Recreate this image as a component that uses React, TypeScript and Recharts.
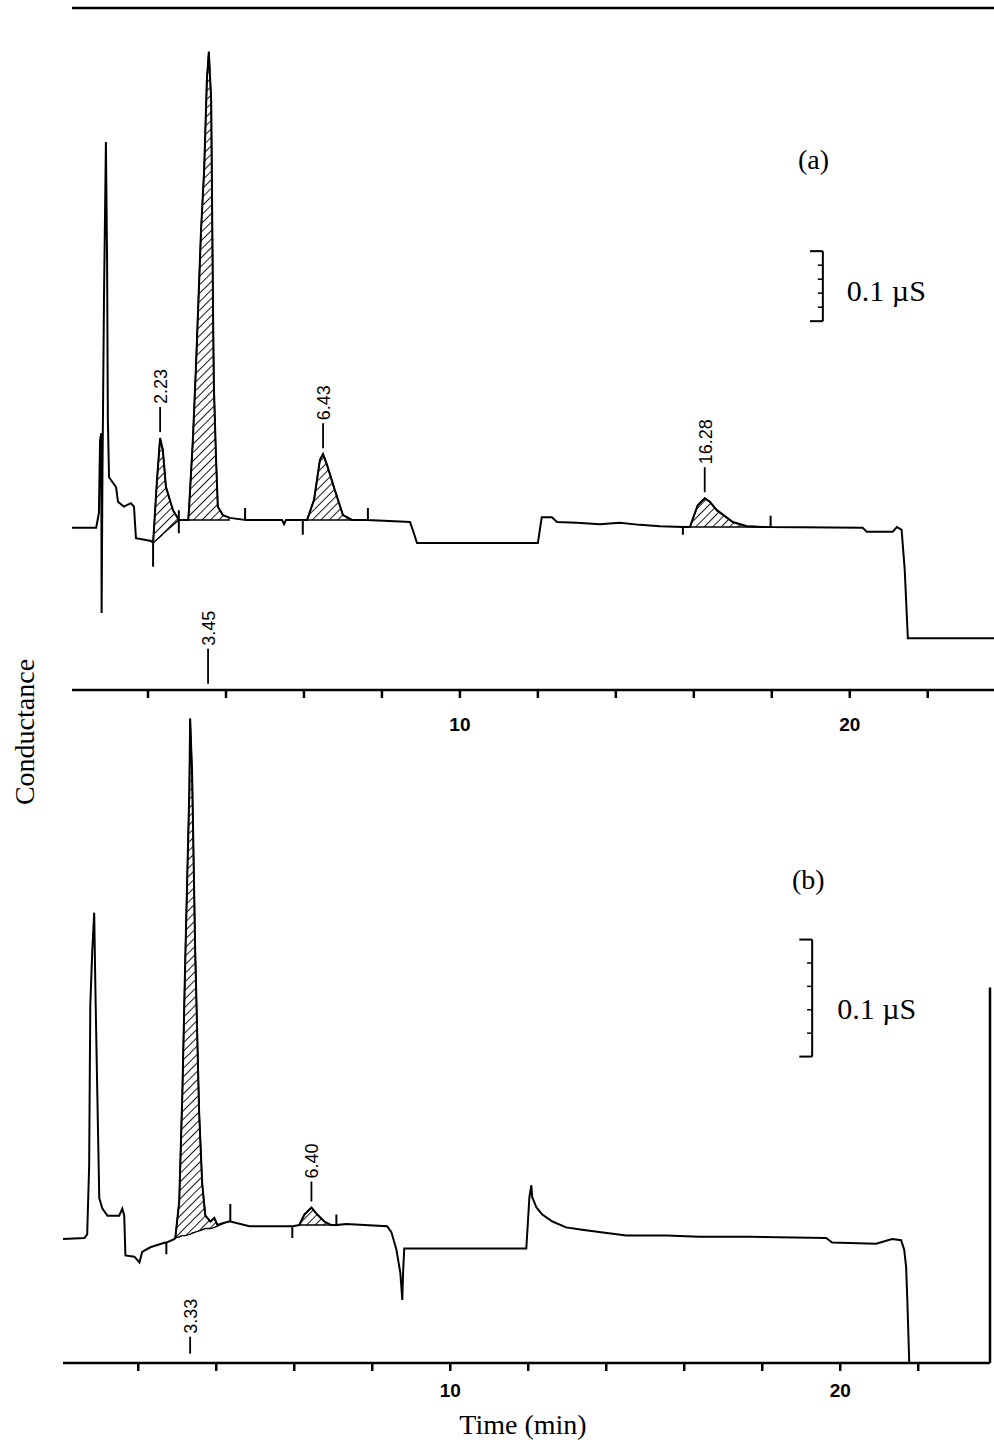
import React from "react";
import { ComposedChart, Line, Area, XAxis, YAxis, ReferenceLine, ReferenceDot } from "recharts";

// time (min), conductance above baseline (µS), optional lower edge of hatched peak area
const TRACE_A: number[][] = [
  [0.05, -0.011], [0.67, -0.011], [0.74, 0.01], [0.77, 0.114], [0.8, 0.124], [0.81, -0.133],
  [0.83, 0.057], [0.87, 0.314], [0.92, 0.54], [0.95, 0.371], [0.97, 0.143], [1.0, 0.061],
  [1.18, 0.047], [1.23, 0.026], [1.38, 0.019], [1.56, 0.024], [1.64, 0.019], [1.69, -0.026],
  [2.08, -0.03], [2.13, -0.033], [2.13, -0.067],
  [2.13, -0.033, -0.033], [2.23, 0.057, -0.028], [2.31, 0.117, -0.024], [2.38, 0.1, -0.02],
  [2.46, 0.047, -0.016], [2.64, 0.014, -0.007], [2.79, 0.0, 0.0],
  [2.79, 0.014], [2.79, -0.019], [2.79, 0.0],
  [3.03, 0.0, 0], [3.05, 0.014, 0], [3.15, 0.114, 0], [3.23, 0.219, 0], [3.36, 0.414, 0],
  [3.44, 0.5, 0], [3.51, 0.629, 0], [3.56, 0.669, 0], [3.62, 0.6, 0], [3.67, 0.286, 0],
  [3.69, 0.19, 0], [3.74, 0.096, 0], [3.79, 0.019, 0], [3.92, 0.007, 0], [4.1, 0.003, 0],
  [4.49, 0.0], [4.49, 0.017], [4.49, 0.0], [5.44, 0.0], [5.49, -0.006], [5.54, 0.0],
  [5.97, 0.0], [5.97, -0.021], [5.97, 0.0],
  [6.08, 0.0, 0], [6.26, 0.029, 0], [6.41, 0.086, 0], [6.49, 0.094, 0], [6.59, 0.079, 0],
  [6.79, 0.043, 0], [7.0, 0.007, 0], [7.23, 0.0, 0],
  [7.64, 0.0], [7.64, 0.017], [7.64, 0.0], [8.72, -0.003], [8.79, -0.014], [8.9, -0.033],
  [12.0, -0.033], [12.05, -0.014], [12.1, 0.004], [12.36, 0.004], [12.49, -0.003],
  [13.0, -0.004], [13.59, -0.006], [14.1, -0.004], [14.62, -0.007], [15.13, -0.009],
  [15.72, -0.01], [15.72, -0.021], [15.72, -0.01],
  [15.9, -0.01, -0.01], [16.1, 0.021, -0.01], [16.28, 0.031, -0.01], [16.41, 0.026, -0.01],
  [16.59, 0.014, -0.01], [17.0, -0.003, -0.01], [17.36, -0.009, -0.01], [17.77, -0.01, -0.01],
  [17.97, -0.01], [17.97, 0.006], [17.97, -0.01], [20.33, -0.011], [20.44, -0.017],
  [21.1, -0.017], [21.21, -0.01], [21.33, -0.014], [21.41, -0.071], [21.49, -0.169],
  [23.7, -0.169],
];

const TRACE_B: number[][] = [
  [0.07, -0.012], [0.62, -0.011], [0.69, -0.008], [0.74, 0.05], [0.77, 0.188], [0.82, 0.234],
  [0.87, 0.267], [0.9, 0.203], [0.95, 0.112], [1.0, 0.023], [1.08, 0.014], [1.21, 0.008],
  [1.51, 0.008], [1.59, 0.014], [1.64, 0.008], [1.67, -0.026], [1.9, -0.027], [2.03, -0.032],
  [2.1, -0.023], [2.31, -0.019], [2.49, -0.017], [2.69, -0.015], [2.72, -0.015],
  [2.72, -0.025], [2.72, -0.015], [2.92, -0.012],
  [2.95, -0.011, -0.011], [3.05, 0.02, -0.01], [3.13, 0.112, -0.009], [3.21, 0.234, -0.009],
  [3.31, 0.372, -0.008], [3.33, 0.433, -0.008], [3.38, 0.387, -0.007], [3.46, 0.234, -0.006],
  [3.56, 0.097, -0.005], [3.64, 0.035, -0.004], [3.72, 0.008, -0.003], [3.85, 0.003, -0.003],
  [3.95, 0.006, -0.002], [4.03, 0.0, -0.001], [4.21, 0.002, 0.002],
  [4.33, 0.003], [4.36, 0.003], [4.36, 0.018], [4.36, 0.003], [4.85, -0.001], [5.95, -0.001],
  [5.95, -0.011], [5.95, -0.001],
  [6.13, 0.0, 0], [6.26, 0.009, 0], [6.44, 0.015, 0], [6.59, 0.009, 0], [6.77, 0.003, 0],
  [6.95, 0.0, 0],
  [7.08, 0.0], [7.08, 0.009], [7.08, 0.0], [7.33, 0.001], [8.38, -0.001], [8.49, -0.006],
  [8.62, -0.021], [8.72, -0.041], [8.77, -0.064], [8.79, -0.041], [8.82, -0.02],
  [11.95, -0.02], [12.03, 0.024], [12.08, 0.034], [12.1, 0.024], [12.21, 0.015], [12.36, 0.009],
  [12.62, 0.003], [12.97, -0.002], [13.38, -0.004], [13.82, -0.006], [14.51, -0.009],
  [15.54, -0.009], [16.38, -0.01], [17.67, -0.01], [19.64, -0.011], [19.79, -0.015],
  [20.92, -0.016], [21.33, -0.012], [21.56, -0.013], [21.64, -0.021], [21.69, -0.036],
  [21.72, -0.064], [21.77, -0.118], [23.84, -0.118],
];

// retention time labels: tag text, time, signal at tag foot
const PEAK_TAGS_A = [
  { label: "2.23", t: 2.31, v: 0.117 },
  { label: "6.43", t: 6.49, v: 0.094 },
  { label: "16.28", t: 16.28, v: 0.031 },
];
const FOOT_TAGS_A = [{ label: "3.45", t: 3.54, v: -0.234 }];
const PEAK_TAGS_B = [{ label: "6.40", t: 6.44, v: 0.015 }];
const FOOT_TAGS_B = [{ label: "3.33", t: 3.33, v: -0.11 }];

const TIME_TICKS = [2, 4, 6, 8, 10, 12, 14, 16, 18, 20, 22];
const TIME_LABELS = [10, 20];

const X_DOMAIN_A = [0.05, 23.7];
const Y_DOMAIN_A = [-0.2429, 0.7314];
const X_DOMAIN_B = [0.07, 23.84];
const Y_DOMAIN_B = [-0.1179, 0.4573];

// 0.1 µS scale bars (time position, bottom value)
const SCALE_A = { t: 19.31, v: 0.284 };
const SCALE_B = { t: 19.28, v: 0.144 };
const SCALE_SPAN = 0.1;
const SCALE_DIVS = 5;

const SANS = "'Liberation Sans', Arial, Helvetica, sans-serif";
const SERIF = "'Liberation Serif', 'Times New Roman', Times, serif";

const toRows = (trace: number[][]) =>
  trace.map(([t, v, lo]) => ({ t, v, band: lo === undefined ? null : [lo, v] }));

function Tag({ cx, cy, text, gap, dash }: any) {
  const y0 = cy - gap;
  const y1 = y0 - dash;
  return (
    <g>
      <line x1={cx} x2={cx} y1={y0} y2={y1} stroke="#000" strokeWidth={1.8} />
      <text
        transform={`translate(${cx + 1},${y1 - 3}) rotate(-90)`}
        fontSize={18}
        fontFamily={SANS}
        dominantBaseline="central"
        fill="#000"
      >
        {text}
      </text>
    </g>
  );
}

const tags = (list: any[], gap: number, dash: number) =>
  list.map((p) => (
    <ReferenceDot
      key={p.label}
      x={p.t}
      y={p.v}
      r={0}
      ifOverflow="visible"
      shape={(s: any) => <Tag cx={s.cx} cy={s.cy} text={p.label} gap={gap} dash={dash} />}
    />
  ));

function scaleBar(pos: { t: number; v: number }, dx: number, dy: number, key: string) {
  const major = 0.33;
  const minor = 0.13;
  const top = pos.v + SCALE_SPAN;
  const lines = [
    <ReferenceLine
      key={key + "-bar"}
      segment={[{ x: pos.t, y: pos.v }, { x: pos.t, y: top }]}
      stroke="#000"
      strokeWidth={2}
      ifOverflow="visible"
      label={(p: any) => {
        const vb = p.viewBox || {};
        const x = vb.x ?? Math.min(vb.x1, vb.x2);
        const y = vb.y ?? Math.min(vb.y1, vb.y2);
        const h = vb.height ?? Math.abs(vb.y2 - vb.y1);
        return (
          <text x={x + dx} y={y + h / 2 + dy} fontSize={30} fontFamily={SERIF} dominantBaseline="central" fill="#000">
            0.1 µS
          </text>
        );
      }}
    />,
    <ReferenceLine key={key + "-lo"} segment={[{ x: pos.t - major, y: pos.v }, { x: pos.t, y: pos.v }]} stroke="#000" strokeWidth={2} ifOverflow="visible" />,
    <ReferenceLine key={key + "-hi"} segment={[{ x: pos.t - major, y: top }, { x: pos.t, y: top }]} stroke="#000" strokeWidth={2} ifOverflow="visible" />,
  ];
  for (let k = 1; k < SCALE_DIVS; k++) {
    const y = pos.v + (SCALE_SPAN * k) / SCALE_DIVS;
    lines.push(
      <ReferenceLine key={key + "-m" + k} segment={[{ x: pos.t - minor, y }, { x: pos.t, y }]} stroke="#000" strokeWidth={1.5} ifOverflow="visible" />
    );
  }
  return lines;
}

const timeTick = (dy: number) => (props: any) => {
  const { x, y, payload } = props;
  if (!TIME_LABELS.includes(payload.value)) return <g />;
  return (
    <text x={x} y={y + dy} textAnchor="middle" dominantBaseline="central" fontSize={19} fontWeight="bold" fontFamily={SANS} fill="#000">
      {payload.value}
    </text>
  );
};

const axisStroke = { stroke: "#000", strokeWidth: 2.5 };

function HatchDef({ id }: { id: string }) {
  return (
    <defs>
      <pattern id={id} patternUnits="userSpaceOnUse" width={6} height={6} patternTransform="rotate(45)">
        <line x1={0} y1={0} x2={0} y2={6} stroke="#000" strokeWidth={1.8} />
      </pattern>
    </defs>
  );
}

export default function App() {
  const rowsA = toRows(TRACE_A);
  const rowsB = toRows(TRACE_B);
  const abs = (s: React.CSSProperties): React.CSSProperties => ({ position: "absolute", ...s });

  return (
    <div style={abs({ left: 0, top: 0, width: 994, height: 1443, background: "#fff", fontFamily: SERIF, color: "#000" })}>
      <div style={abs({ left: 0, top: 0 })}>
        <ComposedChart width={994} height={750} data={rowsA} margin={{ top: 8, right: 0, bottom: 20, left: 72 }}>
          <HatchDef id="hatchA" />
          <XAxis
            dataKey="t"
            type="number"
            domain={X_DOMAIN_A}
            allowDataOverflow
            ticks={TIME_TICKS}
            height={40}
            tickSize={8}
            tickMargin={2}
            tickLine={axisStroke}
            axisLine={axisStroke}
            tick={timeTick(24)}
          />
          <YAxis type="number" domain={Y_DOMAIN_A} allowDataOverflow width={0} tick={false} tickLine={false} axisLine={axisStroke} />
          <ReferenceLine y={Y_DOMAIN_A[1]} stroke="#000" strokeWidth={2.5} ifOverflow="visible" />
          <Area dataKey="band" type="linear" stroke="#000" strokeWidth={1.4} fill="url(#hatchA)" fillOpacity={1} dot={false} activeDot={false} isAnimationActive={false} />
          <Line dataKey="v" type="linear" stroke="#000" strokeWidth={2} dot={false} activeDot={false} isAnimationActive={false} />
          {tags(PEAK_TAGS_A, 6, 25)}
          {tags(FOOT_TAGS_A, 0, 35)}
          {scaleBar(SCALE_A, 24, 4, "sa")}
        </ComposedChart>
      </div>

      <div style={abs({ left: 0, top: 640 })}>
        <ComposedChart width={994} height={800} data={rowsB} margin={{ top: 50, right: 4, bottom: 37, left: 63 }}>
          <HatchDef id="hatchB" />
          <XAxis
            dataKey="t"
            type="number"
            domain={X_DOMAIN_B}
            allowDataOverflow
            ticks={TIME_TICKS}
            height={40}
            tickSize={8}
            tickMargin={2}
            tickLine={axisStroke}
            axisLine={axisStroke}
            tick={timeTick(17)}
          />
          <YAxis type="number" domain={Y_DOMAIN_B} allowDataOverflow width={0} tick={false} tickLine={false} axisLine={axisStroke} />
          <Area dataKey="band" type="linear" stroke="#000" strokeWidth={1.4} fill="url(#hatchB)" fillOpacity={1} dot={false} activeDot={false} isAnimationActive={false} />
          <Line dataKey="v" type="linear" stroke="#000" strokeWidth={2} dot={false} activeDot={false} isAnimationActive={false} />
          <ReferenceLine segment={[{ x: X_DOMAIN_B[1], y: 0.203 }, { x: X_DOMAIN_B[1], y: Y_DOMAIN_B[0] }]} stroke="#000" strokeWidth={2.5} ifOverflow="visible" />
          {tags(PEAK_TAGS_B, 6, 20)}
          {tags(FOOT_TAGS_B, 0, 17)}
          {scaleBar(SCALE_B, 25, 10, "sb")}
        </ComposedChart>
      </div>

      <div style={abs({ left: 798, top: 144, fontSize: 28, lineHeight: "32px" })}>(a)</div>
      <div style={abs({ left: 792, top: 864, fontSize: 28, lineHeight: "32px" })}>(b)</div>
      <div
        style={abs({
          left: 25,
          top: 732,
          fontSize: 28,
          whiteSpace: "nowrap",
          transform: "translate(-50%, -50%) rotate(-90deg)",
        })}
      >
        Conductance
      </div>
      <div style={abs({ left: 523, top: 1425, fontSize: 28, whiteSpace: "nowrap", transform: "translate(-50%, -50%)" })}>
        Time (min)
      </div>
    </div>
  );
}
